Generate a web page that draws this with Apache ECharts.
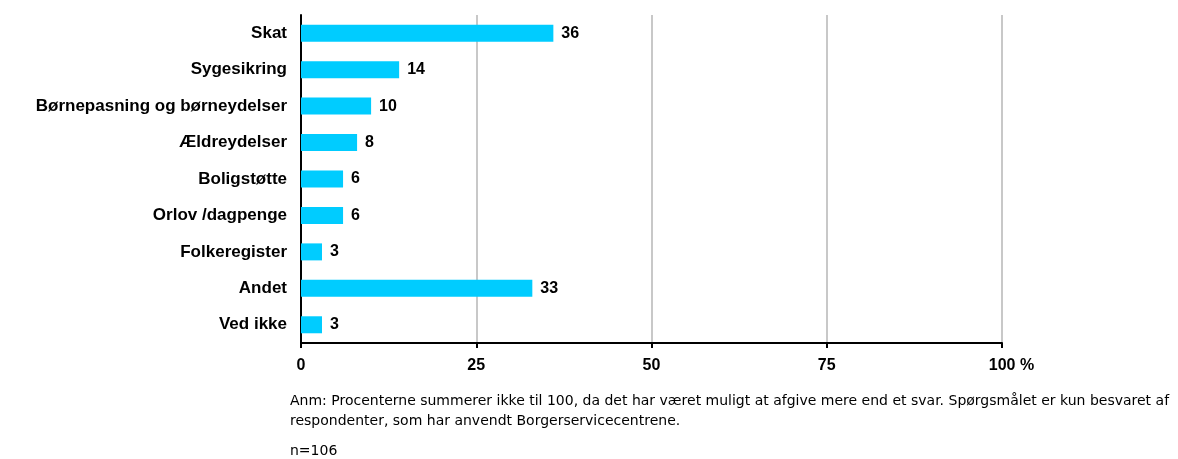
<!DOCTYPE html>
<html lang="da">
<head>
    <meta charset="UTF-8">
    <title>Henvendelser</title>
    <script src="https://cdn.jsdelivr.net/npm/echarts@6/dist/echarts.min.js"></script>
    <style>
        html, body { margin: 0; padding: 0; background: #fff; }
    </style>
</head>
<body>
<div id="main" style="width: 1178px;height:459px"></div>
<script>
    const categories = ['Skat', 'Sygesikring', 'Børnepasning og børneydelser', 'Ældreydelser',
        'Boligstøtte', 'Orlov /dagpenge', 'Folkeregister', 'Andet', 'Ved ikke']
    const values = [36, 14, 10, 8, 6, 6, 3, 33, 3]
    const xTicks = [0, 25, 50, 75, 100]
    const noteLines = [
        'Anm: Procenterne summerer ikke til 100, da det har været muligt at afgive mere end et svar. Spørgsmålet er kun besvaret af',
        'respondenter, som har anvendt Borgerservicecentrene.'
    ]
    const nText = 'n=106'

    const font = '"Liberation Sans", Arial, sans-serif'
    const noteFont = '"DejaVu Sans", Verdana, sans-serif'

    const myChart = echarts.init(document.getElementById('main'))
    const option = {
        animation: false,
        grid: {left: 301, right: 176, top: 15, bottom: 116, containLabel: false},
        xAxis: {
            type: 'value',
            min: xTicks[0],
            max: xTicks[xTicks.length - 1],
            interval: 25,
            axisLine: {show: true, lineStyle: {color: '#000', width: 2}},
            axisTick: {show: true, length: 5, lineStyle: {color: '#000', width: 2}},
            splitLine: {show: true, lineStyle: {color: '#c8c8c8', width: 2}},
            axisLabel: {
                margin: 15,
                color: '#000',
                fontFamily: font,
                fontWeight: 'bold',
                fontSize: 16,
                formatter: function (v) {
                    return v === 100 ? '{s|}100 %' : String(v)
                },
                rich: {
                    s: {width: 19}
                }
            }
        },
        yAxis: {
            type: 'category',
            data: categories,
            inverse: true,
            axisLine: {show: true, lineStyle: {color: '#000', width: 2}},
            axisTick: {show: false},
            splitLine: {show: false},
            axisLabel: {
                margin: 14,
                color: '#000',
                fontFamily: font,
                fontWeight: 'bold',
                fontSize: 17
            }
        },
        series: [
            {
                type: 'bar',
                data: values,
                barWidth: 17,
                itemStyle: {color: '#00ccff'},
                label: {
                    show: true,
                    position: 'right',
                    distance: 8,
                    color: '#000',
                    fontFamily: font,
                    fontWeight: 'bold',
                    fontSize: 16
                }
            }
        ],
        graphic: [
            {
                type: 'text', left: 290, top: 391,
                style: {text: noteLines.join('\n'), font: '14px ' + noteFont, fill: '#000', lineHeight: 20}
            },
            {
                type: 'text', left: 290, top: 444,
                style: {text: nText, font: '14px ' + noteFont, fill: '#000'}
            }
        ]
    }
    myChart.setOption(option)
</script>
</body>
</html>
